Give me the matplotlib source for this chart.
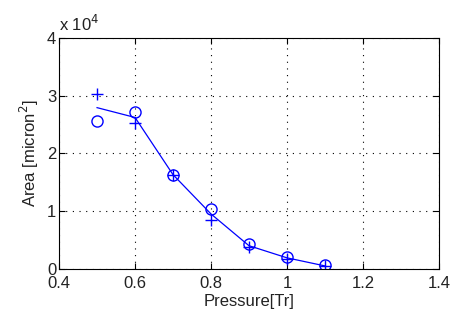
import matplotlib
matplotlib.use('Agg')
import matplotlib.pyplot as plt

# pressure in Tr
pressure = [0.5, 0.6, 0.7, 0.8, 0.9, 1.0, 1.1]
area_circle = [25600, 27200, 16300, 10400, 4300, 2100, 600]
area_plus = [30200, 25300, 16300, 8500, 3700, 1700, 400]
area_line = [27900, 26200, 16300, 9500, 4000, 1900, 500]

plt.rcParams['font.family'] = ['Liberation Sans', 'DejaVu Sans']

fig = plt.figure(figsize=(4.51, 3.2), dpi=100)
ax = fig.add_axes([0.131, 0.16, 0.842, 0.722])

ax.plot(pressure, area_line, color='blue', linewidth=0.9)
ax.plot(pressure, area_circle, linestyle='none', marker='o', markersize=8,
        markerfacecolor='none', markeredgecolor='blue', markeredgewidth=1.0)
ax.plot(pressure, area_plus, linestyle='none', marker='+', markersize=9,
        color='blue', markeredgewidth=1.0)

ax.set_xlim(0.4, 1.4)
ax.set_ylim(0, 40000)
ax.set_xticks([0.4, 0.6, 0.8, 1.0, 1.2, 1.4])
ax.set_xticklabels(['0.4', '0.6', '0.8', '1', '1.2', '1.4'])
ax.set_yticks([0, 10000, 20000, 30000, 40000])
ax.set_yticklabels(['0', '1', '2', '3', '4'])
ax.tick_params(direction='in', top=True, right=True, labelsize=12, length=4, pad=2,
               labelcolor='#222222')
ax.tick_params(axis='x', pad=5)
ax.grid(True, color='black', linestyle=(0, (1, 5)), linewidth=0.8)
for s in ax.spines.values():
    s.set_linewidth(0.8)

ax.text(0.0, 1.015, 'x 10$^4$', transform=ax.transAxes, fontsize=12, ha='left',
        va='bottom', color='#222222')
ax.set_xlabel('Pressure[Tr]', fontsize=12, labelpad=2, color='#222222')
ax.set_ylabel('Area [micron$^2$]', fontsize=12, labelpad=4, color='#222222')

fig.savefig('out.png', dpi=100)
